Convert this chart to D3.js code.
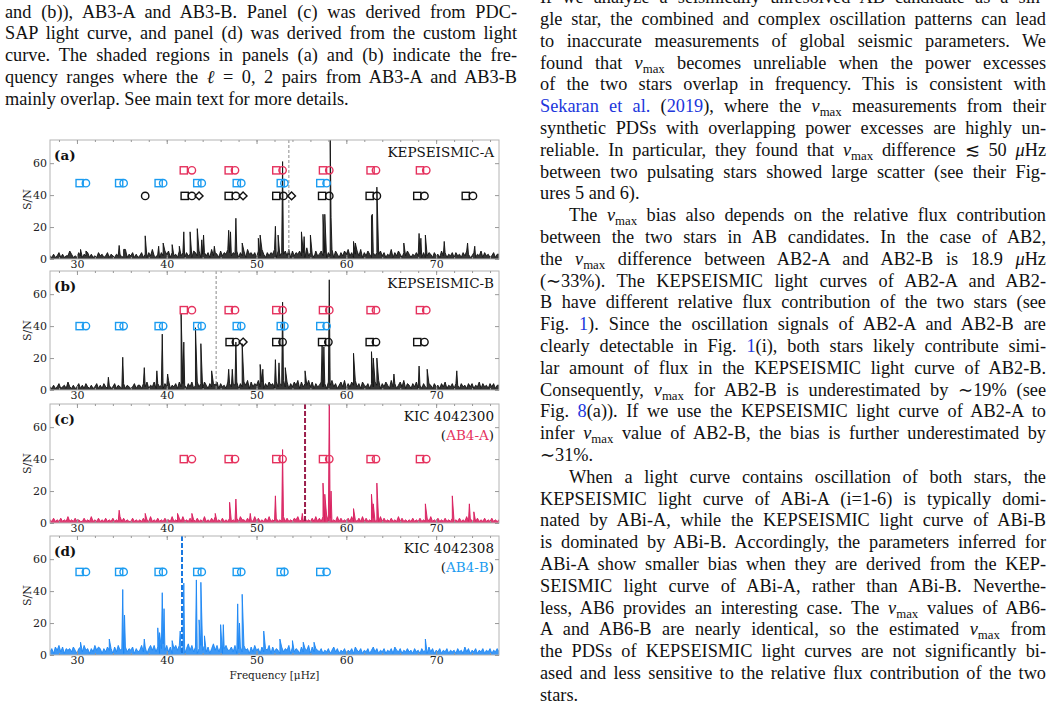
<!DOCTYPE html>
<html>
<head>
<meta charset="utf-8">
<script src="https://cdn.jsdelivr.net/npm/d3@7"></script>
<style>
  body { margin: 0; background: #fff; }
  svg { display: block; }
  .body { font-family: "Liberation Serif", "Times New Roman", serif; white-space: pre; fill: #111; }
  .fig text { font-family: "DejaVu Serif", serif; }
</style>
</head>
<body>
<svg id="page" width="1057" height="708"></svg>
<script>
// ---- chart values ----
var freqDomain = [27, 77];
var snDomain = [0, 74.5];
var freqTicks = [30, 40, 50, 60, 70];
var snTicks = [0, 20, 40, 60];

var panelLetters = ["(a)", "(b)", "(c)", "(d)"];
var panelNames = ["KEPSEISMIC-A", "KEPSEISMIC-B", "KIC 4042300", "KIC 4042308"];
var panelStars = [null, null, "AB4-A", "AB4-B"];
var numaxLines = [53.6, 45.5, 55.4, 41.7];

// mode frequencies: l=2 squares, l=0 circles, l=1 diamonds
var redSq = [41.9, 46.9, 52.2, 57.4, 62.7, 68.2];
var redCi = [42.8, 47.6, 52.9, 58.1, 63.3, 68.9];
var blueSq = [30.3, 34.7, 39.1, 43.4, 47.8, 52.7, 57.1];
var blueCi = [31.0, 35.2, 39.6, 43.9, 48.3, 53.1, 57.8];
var kepASq = [42.0, 46.9, 52.2, 57.3, 62.6, 67.9, 73.3];
var kepACi = [37.6, 42.8, 47.7, 53.0, 58.1, 63.4, 68.7, 74.1];
var kepADi = [43.6, 48.5, 53.9];
var kepBSq = [47.0, 52.2, 57.3, 62.6, 67.9];
var kepBCi = [47.7, 52.9, 58.0, 63.3, 68.7];
var kepBDi = [48.5];

// S/N level of each marker row
var rowLevelsA = [55.5, 47.5, 39.5];
var rowLevelsB = [50, 40, 30];
var rowLevelC = 40;
var rowLevelD = 52;

// prominent peaks [frequency, S/N]
var peaksA = [[30.4,6],[31.0,5],[34.7,8.5],[35.2,6],[37.6,14.5],[39.1,8],[39.6,10],[40.6,9],[41.4,8],[41.9,17],[42.6,17],[43.4,19],[43.9,12],[44.1,15],[45.3,8],[46.9,18],[47.1,17],[47.7,25.5],[48.4,10],[50.2,13],[50.4,15],[52.1,20.5],[52.4,15],[52.9,61],[55.0,17],[55.3,14],[56.0,15],[57.4,28],[57.6,28],[58.2,80],[58.3,26],[60.8,11],[61.0,10],[62.8,27],[62.9,28],[63.4,45],[66.4,10],[68.1,16],[68.3,13],[68.8,15],[70.9,11],[73.5,10],[74.3,8]];
var peaksB = [[33.5,8],[35.1,20.5],[37.5,14],[38.9,12],[39.5,35],[40.1,10],[41.6,48],[41.9,30],[43.2,39],[43.8,29],[45.0,12],[46.9,13],[47.3,13],[47.7,30],[48.4,29],[50.4,16],[50.7,13],[52.1,19],[52.5,17],[52.9,55],[53.2,14],[55.4,12],[57.3,28],[57.5,27],[58.1,69],[60.8,23],[62.8,24],[63.0,20],[63.4,20],[65.3,10],[68.1,15],[69.0,13],[72.3,12]];
var peaksC = [[34.7,8],[37.6,6],[41.2,6],[42.8,6],[45.4,6],[47.0,13],[47.7,15],[49.3,6],[52.1,17],[52.9,46],[55.1,6],[57.4,25],[57.6,18],[58.1,80],[58.3,20],[60.8,9],[62.8,18],[63.0,12],[63.4,25],[68.8,12],[71.8,17],[73.7,12],[74.2,7]];
var peaksD = [[30.4,8],[33.6,10],[35.1,41],[35.3,25],[37.5,10],[39.0,17],[39.2,14],[39.5,39],[39.7,29],[40.6,9],[41.5,15],[41.9,45],[43.3,47],[43.6,22],[43.8,45.5],[44.2,12],[46.0,19],[46.3,19],[47.9,32],[48.1,20],[48.4,38],[50.8,15],[52.6,10],[54.0,9],[55.2,8],[56.4,8],[68.8,10]];

// background noise, one digit = S/N, each string covers 10 muHz from 27
var noiseA = ["21312413122531214213241312142312413213231261324131",
              "24131426213142535142315241423154251342416243152436",
              "42435142516342415263142436152435261524352417243152",
              "35241426153142536241352614253142435241326142531425",
              "31324231412431423152413241423142531241325142312413"];
var noiseB = ["21312412315213124131421312413142131241321413212413",
              "31425132514231426132415243142513524153142435142315",
              "42435142536152436251425341524362514253615243625142",
              "35241536241352614253624153241425361425316241352614",
              "31425131421431423142513241431423142413251423142413"];
var noiseC = ["21312131214121312113121412131213121312141312113121",
              "21312141213121312141213141213121312141213141213121",
              "31213142213121413121314121312141312132412131213141",
              "31415131214131213141213141312131214131213121413121",
              "21312131213141213121312131213121413121312131213121"];
var noiseD = ["24153625143425314526341426354142534152634152435142",
              "36251463625147362514636251473625146362514736251463",
              "35261452634152634152436152431524361524315243615243",
              "24132413524132413241532413241352413241324153241324",
              "23142314231524132413241323142315241324132413241324"];

var captionLines = [
  "and (b)), AB3-A and AB3-B. Panel (c) was derived from PDC-",
  "SAP light curve, and panel (d) was derived from the custom light",
  "curve. The shaded regions in panels (a) and (b) indicate the fre-",
  "quency ranges where the %l = 0, 2 pairs from AB3-A and AB3-B",
  "mainly overlap. See main text for more details.¶"
];
var bodyLines = [
  "If we analyze a seismically unresolved AB candidate as a sin-",
  "gle star, the combined and complex oscillation patterns can lead",
  "to inaccurate measurements of global seismic parameters. We",
  "found that %v becomes unreliable when the power excesses",
  "of the two stars overlap in frequency. This is consistent with",
  "{Sekaran et al.} ({2019}), where the %v measurements from their",
  "synthetic PDSs with overlapping power excesses are highly un-",
  "reliable. In particular, they found that %v difference \u2272 50 %mHz",
  "between two pulsating stars showed large scatter (see their Fig-",
  "ures 5 and 6).¶",
  ">The %v bias also depends on the relative flux contribution",
  "between the two stars in AB candidates. In the case of AB2,",
  "the %v difference between AB2-A and AB2-B is 18.9 %mHz",
  "(\u223c33%). The KEPSEISMIC light curves of AB2-A and AB2-",
  "B have different relative flux contribution of the two stars (see",
  "Fig. {1}). Since the oscillation signals of AB2-A and AB2-B are",
  "clearly detectable in Fig. {1}(i), both stars likely contribute simi-",
  "lar amount of flux in the KEPSEISMIC light curve of AB2-B.",
  "Consequently, %v for AB2-B is underestimated by \u223c19% (see",
  "Fig. {8}(a)). If we use the KEPSEISMIC light curve of AB2-A to",
  "infer %v value of AB2-B, the bias is further underestimated by",
  "\u223c31%.¶",
  ">When a light curve contains oscillation of both stars, the",
  "KEPSEISMIC light curve of ABi-A (i=1-6) is typically domi-",
  "nated by ABi-A, while the KEPSEISMIC light curve of ABi-B",
  "is dominated by ABi-B. Accordingly, the parameters inferred for",
  "ABi-A show smaller bias when they are derived from the KEP-",
  "SEISMIC light curve of ABi-A, rather than ABi-B. Neverthe-",
  "less, AB6 provides an interesting case. The %v values of AB6-",
  "A and AB6-B are nearly identical, so the estimated %v from",
  "the PDSs of KEPSEISMIC light curves are not significantly bi-",
  "ased and less sensitive to the relative flux contribution of the two",
  "stars.¶"
];

// ---- colours ----
var red = "#e5325e", blue = "#1c9cf0", black = "#111",
    redSpec = "#d81c5c", blueSpec = "#1b86f4", linkBlue = "#2136dc";

var page = d3.select("#page");
page.append("rect").attr("width", 1057).attr("height", 708).attr("fill", "#fff");

// ---- running text ----
function parts(s) {
  var out = [];
  s.split(/(\{[^}]*\}|%v|%m|%l)/).forEach(function(tok) {
    if (!tok) return;
    if (tok === "%v") { out.push({t: "\u03bd", it: true}); out.push({t: "max", sub: true}); }
    else if (tok === "%m") out.push({t: "\u03bc", it: true});
    else if (tok === "%l") out.push({t: "\u2113", it: true});
    else if (tok[0] === "{") out.push({t: tok.slice(1, -1), link: true});
    else out.push({t: tok});
  });
  return out;
}

function setLines(lines, x0, w, b0, pitch, size) {
  lines.forEach(function(raw, i) {
    var indent = raw[0] === ">", last = raw.slice(-1) === "\u00b6";
    var s = raw.replace(/^>/, "").replace(/\u00b6$/, "");
    var xs = x0 + (indent ? 29 : 0), ws = w - (indent ? 29 : 0);
    var t = page.append("text").attr("class", "body")
      .attr("x", xs).attr("y", b0 + i * pitch).style("font-size", size + "px");
    var shifted = false;
    parts(s).forEach(function(p) {
      var ts = t.append("tspan").text(p.t);
      if (p.it) ts.style("font-style", "italic");
      if (p.link) ts.attr("fill", linkBlue);
      if (p.sub) { ts.attr("dy", size * 0.22).style("font-size", (size * 0.7) + "px"); shifted = true; }
      else if (shifted) { ts.attr("dy", -size * 0.22); shifted = false; }
    });
    if (!last) {
      var len = t.node().getComputedTextLength();
      var n = (t.text().match(/ /g) || []).length;
      if (n) t.style("word-spacing", ((ws - len) / n) + "px");
    }
  });
}

setLines(captionLines, 5, 512, 17.5, 21.8, 18.3);
setLines(bodyLines, 540, 506, 3.2, 21.8, 18.3);

// ---- figure ----
var fig = page.append("g").attr("class", "fig");
var left = 50, right = 499, ph = 119;
var tops = [140, 271, 404, 536];

var x = d3.scaleLinear().domain(freqDomain).range([left, right]);

var panels = [
  { rows: [{y: rowLevelsA[0], sq: redSq, ci: redCi, c: red},
           {y: rowLevelsA[1], sq: blueSq, ci: blueCi, c: blue},
           {y: rowLevelsA[2], sq: kepASq, ci: kepACi, di: kepADi, c: black}],
    noise: noiseA, peaks: peaksA, spec: black, dash: "#8a8a8a", dw: 1, da: "3,2", starC: null },
  { rows: [{y: rowLevelsB[0], sq: redSq, ci: redCi, c: red},
           {y: rowLevelsB[1], sq: blueSq, ci: blueCi, c: blue},
           {y: rowLevelsB[2], sq: kepBSq, ci: kepBCi, di: kepBDi, c: black}],
    noise: noiseB, peaks: peaksB, spec: black, dash: "#8a8a8a", dw: 1, da: "3,2", starC: null },
  { rows: [{y: rowLevelC, sq: redSq, ci: redCi, c: red}],
    noise: noiseC, peaks: peaksC, spec: redSpec, dash: "#9c1f4d", dw: 2, da: "5,2", starC: red },
  { rows: [{y: rowLevelD, sq: blueSq, ci: blueCi, c: blue}],
    noise: noiseD, peaks: peaksD, spec: blueSpec, dash: "#1a78e0", dw: 2, da: "5,2", starC: blue }
];

panels.forEach(function(p, k) {
  var top = tops[k], bot = top + ph;
  var y = d3.scaleLinear().domain(snDomain).range([bot, top]);
  var g = fig.append("g");

  g.append("clipPath").attr("id", "clip" + k)
    .append("rect").attr("x", left).attr("y", top).attr("width", right - left).attr("height", ph);

  // spectrum
  var pts = [];
  p.noise.forEach(function(seg, j) {
    var step = 10 / seg.length;
    for (var i = 0; i < seg.length; i++) pts.push([freqDomain[0] + 10 * j + i * step, +seg[i]]);
  });
  pts.push([freqDomain[1], +p.noise[4][0]]);
  p.peaks.forEach(function(q) { pts.push(q); });
  pts.sort(function(a, b) { return a[0] - b[0]; });

  var area = d3.area().x(function(d) { return x(d[0]); }).y0(y(0)).y1(function(d) { return y(d[1]); });
  var line = d3.line().x(function(d) { return x(d[0]); }).y(function(d) { return y(d[1]); });
  var sg = g.append("g").attr("clip-path", "url(#clip" + k + ")");
  sg.append("path").datum(pts).attr("d", area).attr("fill", p.spec).attr("opacity", 0.85);
  sg.append("path").datum(pts).attr("d", line).attr("fill", "none").attr("stroke", p.spec).attr("stroke-width", 0.9);

  // numax line
  g.append("line").attr("x1", x(numaxLines[k])).attr("x2", x(numaxLines[k]))
    .attr("y1", top).attr("y2", bot)
    .attr("stroke", p.dash).attr("stroke-width", p.dw).attr("stroke-dasharray", p.da);

  // marker rows
  p.rows.forEach(function(r) {
    var yy = y(r.y);
    g.selectAll(null).data(r.sq).enter().append("rect")
      .attr("x", function(d) { return x(d) - 3.6; }).attr("y", yy - 3.6)
      .attr("width", 7.2).attr("height", 7.2)
      .attr("fill", "none").attr("stroke", r.c).attr("stroke-width", 1.4);
    g.selectAll(null).data(r.ci).enter().append("circle")
      .attr("cx", function(d) { return x(d); }).attr("cy", yy).attr("r", 3.7)
      .attr("fill", "none").attr("stroke", r.c).attr("stroke-width", 1.4);
    if (r.di) g.selectAll(null).data(r.di).enter().append("path")
      .attr("d", d3.symbol(d3.symbolDiamond2, 40))
      .attr("transform", function(d) { return "translate(" + x(d) + "," + yy + ")"; })
      .attr("fill", "none").attr("stroke", r.c).attr("stroke-width", 1.4);
  });

  // frame and inward ticks
  g.append("rect").attr("x", left).attr("y", top).attr("width", right - left).attr("height", ph)
    .attr("fill", "none").attr("stroke", "#b4b4b4").attr("stroke-width", 1);

  var minor = d3.range(28, 77, 2);
  g.append("g").attr("transform", "translate(0," + bot + ")")
    .call(d3.axisBottom(x).tickValues(freqTicks).tickSizeInner(-4).tickSizeOuter(0).tickPadding(1).tickFormat(d3.format("d")));
  g.append("g").attr("transform", "translate(0," + bot + ")")
    .call(d3.axisBottom(x).tickValues(minor).tickSizeInner(-2).tickSizeOuter(0).tickFormat(""));
  g.append("g").attr("transform", "translate(0," + top + ")")
    .call(d3.axisTop(x).tickValues(freqTicks).tickSizeInner(-4).tickSizeOuter(0).tickFormat(""));
  g.append("g").attr("transform", "translate(0," + top + ")")
    .call(d3.axisTop(x).tickValues(minor).tickSizeInner(-2).tickSizeOuter(0).tickFormat(""));
  g.append("g").attr("transform", "translate(" + left + ",0)")
    .call(d3.axisLeft(y).tickValues(snTicks).tickSizeInner(-4).tickSizeOuter(0).tickPadding(3));
  g.append("g").attr("transform", "translate(" + right + ",0)")
    .call(d3.axisRight(y).tickValues(snTicks).tickSizeInner(-4).tickSizeOuter(0).tickFormat(""));
  g.selectAll(".domain").remove();
  g.selectAll(".tick line").attr("stroke", "#999");
  g.selectAll(".tick text").attr("fill", "#222").style("font-size", "11px").style("font-family", "DejaVu Serif, serif");

  g.append("text").attr("transform", "translate(27," + (top + ph / 2) + ") rotate(-90)")
    .attr("text-anchor", "middle").attr("dy", "0.35em")
    .style("font-size", "11px").attr("fill", "#222").text("S/N");

  // labels
  g.append("text").attr("x", 54).attr("y", top + 20).style("font-size", "13.5px")
    .style("font-weight", "bold").attr("fill", "#111").text(panelLetters[k]);
  g.append("text").attr("x", right - 5).attr("y", top + 17).attr("text-anchor", "end")
    .style("font-size", "13.5px").attr("fill", "#111").text(panelNames[k]);
  if (panelStars[k]) {
    var st = g.append("text").attr("x", right - 5).attr("y", top + 36).attr("text-anchor", "end")
      .style("font-size", "13.5px").attr("fill", "#111");
    st.append("tspan").text("(");
    st.append("tspan").attr("fill", p.starC).text(panelStars[k]);
    st.append("tspan").text(")");
  }
});

fig.append("text").attr("x", (left + right) / 2).attr("y", 679).attr("text-anchor", "middle")
  .style("font-size", "10.5px").attr("fill", "#222").text("Frequency [\u03bcHz]");
</script>
</body>
</html>
